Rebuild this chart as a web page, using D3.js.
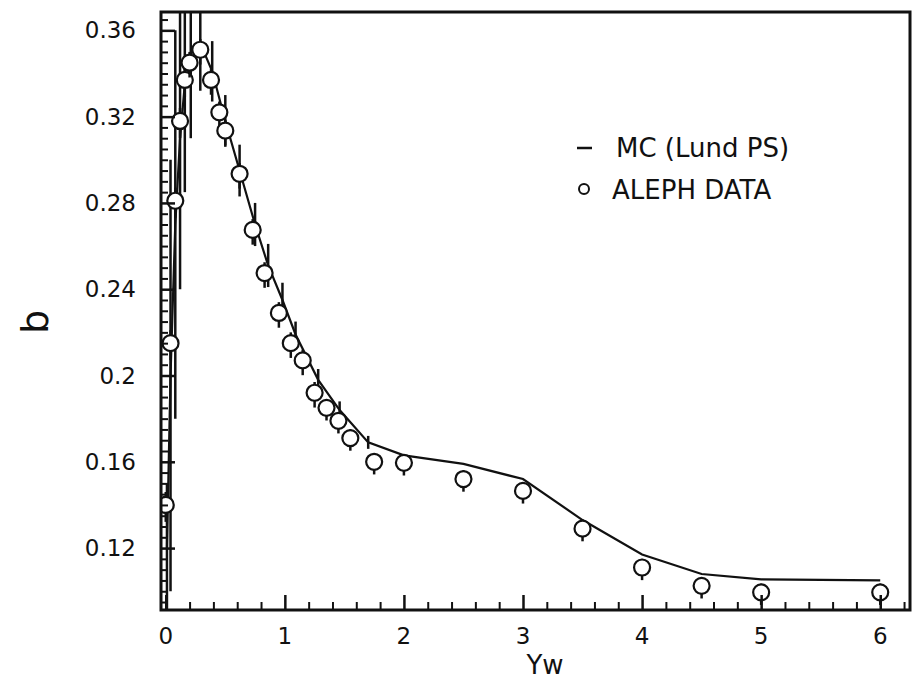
<!DOCTYPE html>
<html>
<head>
<meta charset="utf-8">
<script src="https://cdn.jsdelivr.net/npm/d3@7"></script>
<style>
  body { margin: 0; background: #fff; }
  svg text { font-family: "DejaVu Sans", "Liberation Sans", sans-serif; fill: #111; }
</style>
</head>
<body>
<svg id="chart" width="915" height="685"></svg>
<script>
// ALEPH data points
const dataX = [0.0, 0.04, 0.08, 0.12, 0.16, 0.2, 0.29, 0.38, 0.45, 0.5, 0.62, 0.73, 0.83, 0.95,
  1.05, 1.15, 1.25, 1.35, 1.45, 1.55, 1.75, 2.0, 2.5, 3.0, 3.5, 4.0, 4.5, 5.0, 6.0];
const dataY = [0.14, 0.215, 0.281, 0.318, 0.337, 0.345, 0.351, 0.337, 0.322, 0.3135, 0.2935, 0.2675, 0.2475, 0.229,
  0.215, 0.207, 0.192, 0.185, 0.179, 0.171, 0.16, 0.1595, 0.152, 0.1465, 0.129, 0.111, 0.1025, 0.0995, 0.0995];
const dataErr = [0.006, 0.006, 0.006, 0.006, 0.006, 0.005, 0.005, 0.005, 0.005, 0.005, 0.005, 0.005, 0.005, 0.005,
  0.005, 0.005, 0.005, 0.004, 0.004, 0.004, 0.004, 0.004, 0.004, 0.004, 0.004, 0.004, 0.004, 0.004, 0.004];

// MC (Lund PS)
const mcX = [0.01, 0.04, 0.08, 0.12, 0.16, 0.21, 0.29, 0.39, 0.5, 0.62, 0.75, 0.86, 0.98, 1.09,
  1.28, 1.46, 1.7, 2.0, 2.5, 3.0, 3.5, 4.0, 4.5, 5.0, 6.0];
const mcY = [0.12, 0.2, 0.27, 0.31, 0.335, 0.345, 0.354, 0.341, 0.318, 0.295, 0.27, 0.251, 0.235, 0.219,
  0.198, 0.184, 0.169, 0.163, 0.159, 0.152, 0.133, 0.117, 0.108, 0.1055, 0.105];
const mcErr = [0.03, 0.1, 0.09, 0.07, 0.05, 0.035, 0.022, 0.014, 0.012, 0.012, 0.01, 0.01, 0.008, 0.006,
  0.005, 0.004, 0.003, 0, 0, 0, 0, 0, 0, 0, 0];

const xTickLabels = ['0', '1', '2', '3', '4', '5', '6'];
const yTickLabels = ['0.12', '0.16', '0.2', '0.24', '0.28', '0.32', '0.36'];

const svg = d3.select('#chart');
const x = d3.scaleLinear().domain([-0.04, 6.25]).range([161, 910]);
const y = d3.scaleLinear().domain([0.0913, 0.3685]).range([610, 12]);

svg.append('clipPath').attr('id', 'plot')
  .append('rect').attr('x', 161).attr('y', 12).attr('width', 749).attr('height', 598);

const plot = svg.append('g').attr('clip-path', 'url(#plot)');

// minor ticks on y (inside)
const yMinor = d3.range(0.095, 0.366, 0.005).filter(v => Math.abs((v / 0.04) - Math.round(v / 0.04)) > 0.01);
svg.append('g')
  .attr('transform', 'translate(161,0)')
  .call(d3.axisRight(y).tickValues(yMinor).tickSize(7).tickFormat(''))
  .call(g => g.select('.domain').remove())
  .selectAll('line').attr('stroke', '#111').attr('stroke-width', 2);

// major y ticks with labels
const yAxis = svg.append('g')
  .attr('transform', 'translate(161,0)')
  .call(d3.axisRight(y).tickValues(yTickLabels.map(Number)).tickSize(14).tickFormat(''));
yAxis.select('.domain').remove();
yAxis.selectAll('line').attr('stroke', '#111').attr('stroke-width', 2.5);

svg.append('g').selectAll('text')
  .data(yTickLabels)
  .enter()
  .append('text')
  .attr('x', 136)
  .attr('y', d => y(+d) + 8)
  .attr('text-anchor', 'end')
  .attr('font-size', 23)
  .text(d => d);

// x ticks, minor every 0.2, major every 1
const xMinor = d3.range(0.2, 6.25, 0.2).filter(v => Math.abs(v - Math.round(v)) > 0.01);
svg.append('g')
  .attr('transform', 'translate(0,610)')
  .call(d3.axisTop(x).tickValues(xMinor).tickSize(8).tickFormat(''))
  .call(g => g.select('.domain').remove())
  .selectAll('line').attr('stroke', '#111').attr('stroke-width', 2);

const xAxis = svg.append('g')
  .attr('transform', 'translate(0,610)')
  .call(d3.axisTop(x).tickValues(xTickLabels.map(Number)).tickSize(15).tickFormat(''));
xAxis.select('.domain').remove();
xAxis.selectAll('line').attr('stroke', '#111').attr('stroke-width', 2.5);

svg.append('g').selectAll('text')
  .data(xTickLabels)
  .enter()
  .append('text')
  .attr('x', d => x(+d))
  .attr('y', 644)
  .attr('text-anchor', 'middle')
  .attr('font-size', 23)
  .text(d => d);

// frame
svg.append('rect')
  .attr('x', 161).attr('y', 12).attr('width', 749).attr('height', 598)
  .attr('fill', 'none').attr('stroke', '#111').attr('stroke-width', 3);

// MC error bars and line
const mc = mcX.map((v, i) => ({ x: v, y: mcY[i], e: mcErr[i] }));
plot.selectAll('.mcerr')
  .data(mc.filter(d => d.e > 0))
  .enter()
  .append('line')
  .attr('class', 'mcerr')
  .attr('x1', d => x(d.x)).attr('x2', d => x(d.x))
  .attr('y1', d => y(d.y - d.e)).attr('y2', d => y(d.y + d.e))
  .attr('stroke', '#111').attr('stroke-width', 2.5);

plot.append('path')
  .datum(mc)
  .attr('d', d3.line().x(d => x(d.x)).y(d => y(d.y)))
  .attr('fill', 'none')
  .attr('stroke', '#111')
  .attr('stroke-width', 2.2);

// ALEPH data
const pts = dataX.map((v, i) => ({ x: v, y: dataY[i], e: dataErr[i] }));
const g = plot.selectAll('.pt')
  .data(pts)
  .enter()
  .append('g')
  .attr('class', 'pt');
g.append('line')
  .attr('x1', d => x(d.x)).attr('x2', d => x(d.x))
  .attr('y1', d => y(d.y - d.e) + 4).attr('y2', d => y(d.y + d.e))
  .attr('stroke', '#111').attr('stroke-width', 2.5);
g.append('circle')
  .attr('cx', d => x(d.x))
  .attr('cy', d => y(d.y))
  .attr('r', 8)
  .attr('fill', '#fff')
  .attr('stroke', '#111')
  .attr('stroke-width', 2.2);

// legend
svg.append('line')
  .attr('x1', 577).attr('x2', 592).attr('y1', 148).attr('y2', 148)
  .attr('stroke', '#111').attr('stroke-width', 2.5);
svg.append('text').attr('x', 616).attr('y', 157).attr('font-size', 26).text('MC (Lund PS)');
svg.append('circle')
  .attr('cx', 584).attr('cy', 189).attr('r', 5)
  .attr('fill', 'none').attr('stroke', '#111').attr('stroke-width', 2);
svg.append('text').attr('x', 612).attr('y', 199).attr('font-size', 26).text('ALEPH DATA');

// axis titles
svg.append('text')
  .attr('transform', 'translate(48,322) rotate(-90)')
  .attr('text-anchor', 'middle')
  .attr('font-size', 38)
  .text('b');
svg.append('text')
  .attr('x', 545).attr('y', 674)
  .attr('text-anchor', 'middle')
  .attr('font-size', 26)
  .text('Yw');
</script>
</body>
</html>
